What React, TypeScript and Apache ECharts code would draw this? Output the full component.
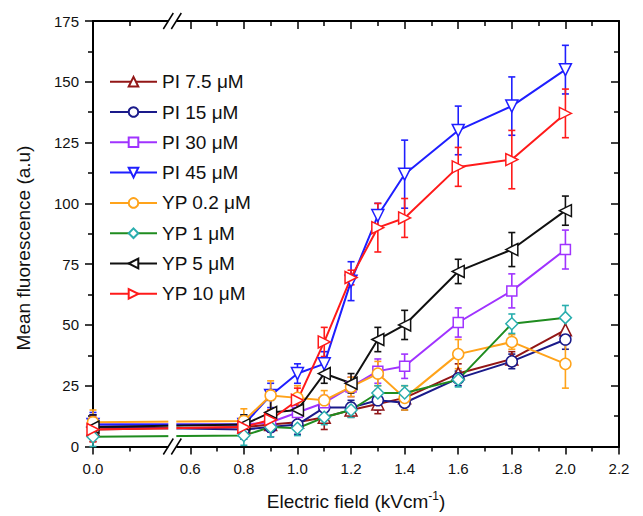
import React, { useEffect, useRef } from 'react';
import * as echarts from 'echarts';

// ---- data ----
const xValues = [0, 0.8, 0.9, 1.0, 1.1, 1.2, 1.3, 1.4, 1.6, 1.8, 2.0];

const pi75 = [7, 8, 9, 10, 12, 15, 17.5, 20, 30, 36, 48];
const pi75Err = [5, 3, 3, 3, 5, 3, 4, 3, 4, 3, 5];
const pi15 = [8, 7, 8, 9, 16, 16, 19, 18, 28, 35, 44];
const pi15Err = [5, 4, 4, 4, 3, 3, 4, 3, 3, 3, 4];
const pi30 = [9, 9, 10, 14, 18, 24.5, 31, 33, 51, 64, 81];
const pi30Err = [4, 3, 4, 3, 3, 4, 5, 5, 6, 7, 8];
const pi45 = [9, 9, 21, 30, 34, 68, 95, 112, 130, 140, 155];
const pi45Err = [5, 4, 5, 4, 5, 8, 5, 14, 10, 12, 10];
const yp02 = [10, 10.5, 21, 20, 19, 24.5, 30, 20, 38, 43, 34];
const yp02Err = [5, 5, 6, 5, 4, 4, 5, 5, 6, 3, 10];
const yp1 = [4, 4.5, 8, 7.5, 12, 15, 22, 22, 27.5, 50.5, 53];
const yp1Err = [4, 4, 4, 3, 3, 3, 3, 3, 3, 4, 5];
const yp5 = [8, 9, 14, 15, 30, 26, 44, 50, 72, 81, 97];
const yp5Err = [5, 4, 5, 5, 4, 4, 5, 6, 5, 7, 6];
const yp10 = [7, 8, 11, 19, 43, 69.5, 90, 94, 115, 118, 137];
const yp10Err = [5, 4, 4, 5, 6, 3, 10, 8, 8, 12, 10];

const seriesNames = ['PI 7.5 μM', 'PI 15 μM', 'PI 30 μM', 'PI 45 μM', 'YP 0.2 μM', 'YP 1 μM', 'YP 5 μM', 'YP 10 μM'];

const xMajorLabels = ['0.0', '0.6', '0.8', '1.0', '1.2', '1.4', '1.6', '1.8', '2.0', '2.2'];
const xMajorValues = [0, 0.6, 0.8, 1.0, 1.2, 1.4, 1.6, 1.8, 2.0, 2.2];
const xMinorValues = [0.1, 0.7, 0.9, 1.1, 1.3, 1.5, 1.7, 1.9, 2.1];

// ---- broken axis mapping (left segment compressed) ----
const ZERO_POS = 0.237;
const LEFT_MINOR_POS = 0.376;
const BREAK_POS = 0.533;
const axisPos = (x: number) => (x === 0 ? ZERO_POS : x === 0.1 ? LEFT_MINOR_POS : x);

const FONT = 'Liberation Sans, Arial, Helvetica, sans-serif';
const TXT = '#111';

const defs = [
  { name: seriesNames[0], values: pi75, errors: pi75Err, line: '#921616', marker: '#921616', symbol: 'triangle', rotate: 0 },
  { name: seriesNames[1], values: pi15, errors: pi15Err, line: '#1a1a8a', marker: '#1a1a8a', symbol: 'circle', rotate: 0 },
  { name: seriesNames[2], values: pi30, errors: pi30Err, line: '#a033ff', marker: '#a033ff', symbol: 'rect', rotate: 0 },
  { name: seriesNames[3], values: pi45, errors: pi45Err, line: '#1f1fff', marker: '#1f1fff', symbol: 'triangle', rotate: 180 },
  { name: seriesNames[4], values: yp02, errors: yp02Err, line: '#ffa31a', marker: '#ffa31a', symbol: 'circle', rotate: 0 },
  { name: seriesNames[5], values: yp1, errors: yp1Err, line: '#1f8c1f', marker: '#2aaeae', symbol: 'diamond', rotate: 0 },
  { name: seriesNames[6], values: yp5, errors: yp5Err, line: '#111111', marker: '#111111', symbol: 'triangle', rotate: 90 },
  { name: seriesNames[7], values: yp10, errors: yp10Err, line: '#ff1a1a', marker: '#ff1a1a', symbol: 'triangle', rotate: -90 },
];

export default function App() {
  const ref = useRef<HTMLDivElement>(null);

  useEffect(() => {
    if (!ref.current) return;
    document.body.style.margin = '0';
    const chart = echarts.init(ref.current, undefined, { renderer: 'svg' });

    const lineSeries = defs.map((d) => ({
      type: 'line',
      name: d.name,
      xAxisIndex: 0,
      yAxisIndex: 0,
      data: xValues.map((x, i) => [axisPos(x), d.values[i]]),
      symbol: d.symbol,
      symbolSize: d.symbol === 'rect' ? 10 : d.symbol === 'circle' ? 11 : 12,
      symbolRotate: d.rotate,
      lineStyle: { color: d.line, width: 2 },
      itemStyle: { color: '#ffffff', borderColor: d.marker, borderWidth: 1.5 },
      emphasis: { disabled: true },
      z: 3,
    }));

    const errSeries = defs.map((d) => ({
      type: 'custom',
      name: d.name + ' error',
      xAxisIndex: 0,
      yAxisIndex: 0,
      silent: true,
      z: 2,
      encode: { x: 0, y: 1 },
      data: xValues.map((x, i) => [axisPos(x), d.values[i], d.errors[i]]),
      renderItem: (params: any, api: any) => {
        const x = api.value(0);
        const y = api.value(1);
        const e = api.value(2);
        const top = api.coord([x, y + e]);
        const bot = api.coord([x, y - e]);
        const cw = 3.5;
        const style = { stroke: d.marker, lineWidth: 1.6 };
        return {
          type: 'group',
          children: [
            { type: 'line', shape: { x1: top[0], y1: top[1], x2: bot[0], y2: bot[1] }, style },
            { type: 'line', shape: { x1: top[0] - cw, y1: top[1], x2: top[0] + cw, y2: top[1] }, style },
            { type: 'line', shape: { x1: bot[0] - cw, y1: bot[1], x2: bot[0] + cw, y2: bot[1] }, style },
          ],
        };
      },
    }));

    const axisLine = { show: true, lineStyle: { color: '#000', width: 2 } };
    const majorVals = xMajorValues.map(axisPos);
    const minorVals = xMinorValues.map(axisPos);
    const baseX = { type: 'value', min: ZERO_POS, max: 2.2, splitLine: { show: false }, gridIndex: 0 };

    chart.setOption({
      animation: false,
      tooltip: { show: false },
      grid: { left: 93, right: 24, top: 21, bottom: 68, containLabel: false },
      legend: {
        data: seriesNames,
        orient: 'vertical',
        left: 109,
        top: 71.7,
        padding: 0,
        itemWidth: 47,
        itemHeight: 12,
        itemGap: 10.3,
        z: 200,
        selectedMode: false,
        textStyle: { fontSize: 19, color: TXT, fontFamily: FONT, lineHeight: 20 },
      },
      xAxis: [
        {
          ...baseX,
          position: 'bottom',
          axisLine,
          axisTick: { show: true, inside: false, length: 8, customValues: majorVals, lineStyle: { color: '#000', width: 1.5 } },
          axisLabel: {
            show: true,
            customValues: majorVals,
            fontSize: 15,
            color: TXT,
            fontFamily: FONT,
            margin: 14,
            formatter: (v: number) => {
              const idx = majorVals.findIndex((m) => Math.abs(m - v) < 1e-6);
              return idx >= 0 ? xMajorLabels[idx] : '';
            },
          },
          name: '{a|Electric field (kVcm}{b|-1}{a|)}',
          nameLocation: 'middle',
          nameGap: 43,
          nameTextStyle: {
            rich: {
              a: { fontSize: 19, color: TXT, fontFamily: FONT, lineHeight: 24 },
              b: { fontSize: 12, color: TXT, fontFamily: FONT, verticalAlign: 'top', lineHeight: 24 },
            },
          },
        },
        {
          ...baseX,
          position: 'bottom',
          axisLine: { show: false },
          axisTick: { show: true, inside: false, length: 5, customValues: minorVals, lineStyle: { color: '#000', width: 1.5 } },
          axisLabel: { show: false },
        },
        {
          ...baseX,
          position: 'top',
          axisLine,
          axisTick: { show: true, inside: true, length: 8, customValues: majorVals, lineStyle: { color: '#000', width: 1.5 } },
          axisLabel: { show: false },
        },
        {
          ...baseX,
          position: 'top',
          axisLine: { show: false },
          axisTick: { show: true, inside: true, length: 5, customValues: minorVals, lineStyle: { color: '#000', width: 1.5 } },
          axisLabel: { show: false },
        },
      ],
      yAxis: [
        {
          type: 'value',
          min: 0,
          max: 175,
          interval: 25,
          position: 'left',
          axisLine,
          splitLine: { show: false },
          axisTick: { show: true, inside: false, length: 8, lineStyle: { color: '#000', width: 1.5 } },
          minorTick: { show: true, splitNumber: 2, length: 5, lineStyle: { color: '#000', width: 1.5 } },
          axisLabel: { fontSize: 15, color: TXT, fontFamily: FONT, margin: 14 },
        },
        {
          type: 'value',
          min: 0,
          max: 175,
          interval: 25,
          position: 'right',
          axisLine,
          splitLine: { show: false },
          axisTick: { show: true, inside: true, length: 8, lineStyle: { color: '#000', width: 1.5 } },
          minorTick: { show: true, splitNumber: 2, length: 5, lineStyle: { color: '#000', width: 1.5 } },
          axisLabel: { show: false },
        },
      ],
      series: [...errSeries, ...lineSeries],
    } as any);

    const bx = chart.convertToPixel({ xAxisIndex: 0 } as any, BREAK_POS) as unknown as number;
    const yTop = chart.convertToPixel({ yAxisIndex: 0 } as any, 175) as unknown as number;
    const yBot = chart.convertToPixel({ yAxisIndex: 0 } as any, 0) as unknown as number;
    const yLow = chart.convertToPixel({ yAxisIndex: 0 } as any, 25) as unknown as number;
    const slashes: any[] = [];
    [yTop, yBot].forEach((yy) => {
      [-4, 4].forEach((dx) => {
        const cx = bx + dx;
        slashes.push({
          type: 'line',
          z: 101,
          shape: { x1: cx - 5, y1: yy + 8, x2: cx + 5, y2: yy - 8 },
          style: { stroke: '#000', lineWidth: 1.5 },
        });
      });
    });

    chart.setOption({
      graphic: [
        {
          type: 'rect',
          z: 100,
          shape: { x: bx - 4, y: yLow, width: 8, height: yBot - yLow + 3 },
          style: { fill: '#fff' },
        },
        {
          type: 'rect',
          z: 100,
          shape: { x: bx - 4, y: yTop - 3, width: 8, height: 6 },
          style: { fill: '#fff' },
        },
        ...slashes,
        {
          type: 'text',
          z: 100,
          x: 23,
          y: 248,
          rotation: Math.PI / 2,
          style: {
            text: 'Mean fluorescence (a.u)',
            fontSize: 19,
            fontFamily: FONT,
            fill: TXT,
            textAlign: 'center',
            textVerticalAlign: 'middle',
          },
        },
      ],
    } as any);

    return () => chart.dispose();
  }, []);

  return (
    <div
      ref={ref}
      style={{ position: 'fixed', left: 0, top: 0, width: 643, height: 516, background: '#fff' }}
    />
  );
}
